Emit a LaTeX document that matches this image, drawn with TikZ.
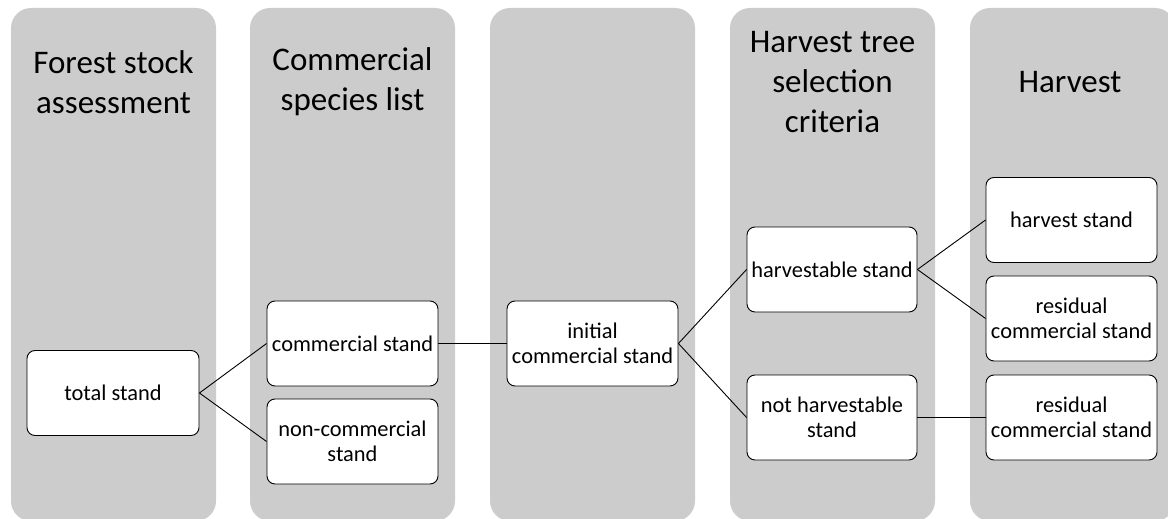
\documentclass[tikz,border=0pt]{standalone}
\usepackage{fontspec}
\setmainfont{Carlito}
\definecolor{lanegray}{RGB}{204,204,204}
\begin{document}
\begin{tikzpicture}[x=1pt,y=-1pt,
  lane/.style={fill=lanegray, draw=none, rounded corners=20pt},
  title/.style={font=\fontsize{33}{40}\selectfont, align=center, text=black},
  stand/.style={draw=black, fill=white, line width=0.9pt, rounded corners=8pt,
    minimum width=171pt, minimum height=85pt, inner sep=0pt, align=center,
    font=\fontsize{22.4}{25.5}\selectfont},
  link/.style={draw=black, line width=0.9pt}]
\useasboundingbox (0,0) rectangle (1168,519);
\begin{scope}
\clip (0,0) rectangle (1168,519);
\fill[lane] (11,8) rectangle (216,521);
\fill[lane] (250,8) rectangle (455,521);
\fill[lane] (490,8) rectangle (695,521);
\fill[lane] (730,8) rectangle (935,521);
\fill[lane] (970,8) rectangle (1175,521);
\end{scope}
\node[title] (t1) at (113.5,82) {Forest stock\\assessment};
\node[title] (t2) at (352.5,82) {Commercial\\species list};
\node[title] (t4) at (832.5,82) {Harvest tree\\selection\\criteria};
\node[title] (t5) at (1070,82) {Harvest};

\node[stand, minimum width=172pt] (total) at (113,393) {total stand};
\node[stand] (comm) at (352.5,343.5) {commercial stand};
\node[stand] (noncomm) at (352.5,441.5) {non-commercial\\stand};
\node[stand] (init) at (592.5,343.5) {initial\\commercial stand};
\node[stand, minimum width=170pt] (harvable) at (832,269.5) {harvestable stand};
\node[stand, minimum width=170pt] (notharv) at (832,417.5) {not harvestable\\stand};
\node[stand] (hstand) at (1071.5,220) {harvest stand};
\node[stand] (res1) at (1071.5,318.5) {residual\\commercial stand};
\node[stand] (res2) at (1071.5,417.5) {residual\\commercial stand};

\draw[link] (total.east) -- (comm.west);
\draw[link] (total.east) -- (noncomm.west);
\draw[link] (comm.east) -- (init.west);
\draw[link] (init.east) -- (harvable.west);
\draw[link] (init.east) -- (notharv.west);
\draw[link] (harvable.east) -- (hstand.west);
\draw[link] (harvable.east) -- (res1.west);
\draw[link] (notharv.east) -- (res2.west);
\end{tikzpicture}
\end{document}
